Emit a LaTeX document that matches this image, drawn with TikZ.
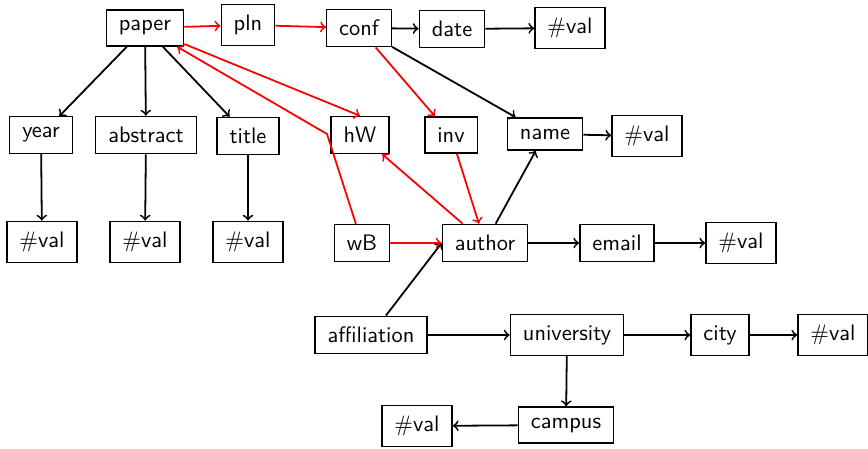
\documentclass[tikz,border=0pt]{standalone}
\usetikzlibrary{arrows}
\begin{document}
\begin{tikzpicture}[x=0.4464pt,y=-0.4464pt,
  box/.style={draw,semithick,font=\sffamily,inner xsep=5.6pt,inner ysep=4.8pt},
  blk/.style={->,thick,black},
  rd/.style={->,thick,red}]
\useasboundingbox (0,0) rectangle (868,448);
\node[box] (paper) at (145,28) {paper};
\node[box] (pln) at (248,25) {pln};
\node[box] (conf) at (359,28) {conf};
\node[box] (date) at (452,29) {date};
\node[box] (v1) at (570,28) {$\#$val};
\node[box] (year) at (41,135) {year};
\node[box] (abstract) at (146,135) {abstract};
\node[box] (title) at (248,136) {title};
\node[box] (hW) at (360,135) {hW};
\node[box] (inv) at (451,135) {inv};
\node[box] (name) at (545,134) {name};
\node[box] (v2) at (647,136) {$\#$val};
\node[box] (v3) at (42,242) {$\#$val};
\node[box] (v4) at (145,242) {$\#$val};
\node[box] (v5) at (248,242) {$\#$val};
\node[box] (wB) at (362,243) {wB};
\node[box] (author) at (485,243) {author};
\node[box] (email) at (617,243) {email};
\node[box] (v6) at (741,243) {$\#$val};
\node[box] (affil) at (371,335) {affiliation};
\node[box] (univ) at (567,335) {university};
\node[box] (city) at (720,335) {city};
\node[box] (v7) at (833,335) {$\#$val};
\node[box] (campus) at (566,425) {campus};
\node[box] (v8) at (417,426) {$\#$val};
\coordinate (bend) at (327,134);
% black
\draw[blk] (paper) -- (year);
\draw[blk] (paper) -- (abstract);
\draw[blk] (paper) -- (title);
\draw[blk] (conf) -- (date);
\draw[blk] (date) -- (v1);
\draw[blk] (conf) -- (name);
\draw[blk] (name) -- (v2);
\draw[blk] (year) -- (v3);
\draw[blk] (abstract) -- (v4);
\draw[blk] (title) -- (v5);
\draw[blk] (author) -- (name);
\draw[blk] (author) -- (email);
\draw[blk] (email) -- (v6);
\draw[blk] (affil) -- (author.west);
\draw[blk] (affil) -- (univ);
\draw[blk] (univ) -- (city);
\draw[blk] (city) -- (v7);
\draw[blk] (univ) -- (campus);
\draw[blk] (campus) -- (v8);
% red
\draw[rd] (paper) -- (pln);
\draw[rd] (pln) -- (conf);
\draw[rd] (conf) -- (inv);
\draw[rd] (inv) -- (author);
\draw[rd] (author) -- (hW);
\draw[rd] (wB) -- (author);
\draw[rd] (paper) -- (hW.north);
\draw[rd] (wB) -- (bend) -- (paper);
\end{tikzpicture}
\end{document}
